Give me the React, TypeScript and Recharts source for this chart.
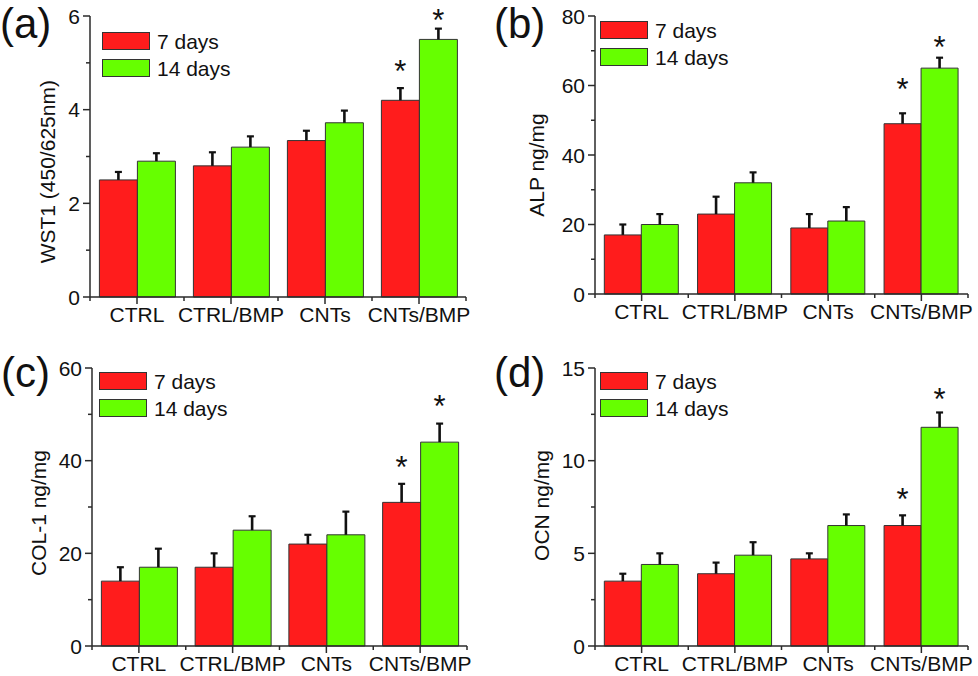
import React from 'react';
import { BarChart, Bar, XAxis, YAxis, Legend, LabelList } from 'recharts';

// ---------- data ----------
const categories = ['CTRL', 'CTRL/BMP', 'CNTs', 'CNTs/BMP'];
const seriesNames = ['7 days', '14 days'];

const wst1Day7 = [2.5, 2.8, 3.34, 4.2];
const wst1Day14 = [2.9, 3.2, 3.72, 5.5];
const wst1Err7 = [0.17, 0.29, 0.21, 0.26];
const wst1Err14 = [0.17, 0.23, 0.26, 0.23];
const wst1Star7 = [null, null, null, 4.97];
const wst1Star14 = [null, null, null, 6.06];
const wst1Ticks = [0, 1, 2, 3, 4, 5, 6];
const wst1Major = [0, 2, 4, 6];

const alpDay7 = [17, 23, 19, 49];
const alpDay14 = [20, 32, 21, 65];
const alpErr7 = [3, 5, 4, 3];
const alpErr14 = [3, 3, 4, 3];
const alpStar7 = [null, null, null, 61];
const alpStar14 = [null, null, null, 73.2];
const alpTicks = [0, 10, 20, 30, 40, 50, 60, 70, 80];
const alpMajor = [0, 20, 40, 60, 80];

const colDay7 = [14, 17, 22, 31];
const colDay14 = [17, 25, 24, 44];
const colErr7 = [3, 3, 2, 4];
const colErr14 = [4, 3, 5, 4];
const colStar7 = [null, null, null, 40.2];
const colStar14 = [null, null, null, 53.2];
const colTicks = [0, 10, 20, 30, 40, 50, 60];
const colMajor = [0, 20, 40, 60];

const ocnDay7 = [3.5, 3.9, 4.7, 6.5];
const ocnDay14 = [4.4, 4.9, 6.5, 11.8];
const ocnErr7 = [0.4, 0.6, 0.3, 0.55];
const ocnErr14 = [0.6, 0.7, 0.6, 0.8];
const ocnStar7 = [null, null, null, 8.3];
const ocnStar14 = [null, null, null, 13.7];
const ocnTicks = [0, 2.5, 5, 7.5, 10, 12.5, 15];
const ocnMajor = [0, 5, 10, 15];

// ---------- styles ----------
const FONT = '"Liberation Sans", Arial, sans-serif';
const AXIS = '#2a2a2a';
const TEXT = '#111';
const RED = '#FF1C1C';
const GREEN = '#66FF00';
const FS = 21;
const STAR_FS = 31;
const W = 489;
const H = 338;
const Y_AXIS_W = 40;
const X_AXIS_H = 30;

type Cfg = {
  left: number;
  top: number;
  plot: { l: number; r: number; t: number; b: number };
  day7: number[];
  day14: number[];
  err7: number[];
  err14: number[];
  star7: (number | null)[];
  star14: (number | null)[];
  domain: [number, number];
  ticks: number[];
  major: number[];
  yLabel: string;
  yLabelPos: [number, number];
  letter: string;
  letterPos: [number, number];
  legendPos: [number, number];
};

const panels: Cfg[] = [
  {
    left: 0, top: 0, plot: { l: 90, r: 466, t: 16, b: 297 },
    day7: wst1Day7, day14: wst1Day14, err7: wst1Err7, err14: wst1Err14, star7: wst1Star7, star14: wst1Star14,
    domain: [0, 6], ticks: wst1Ticks, major: wst1Major,
    yLabel: 'WST1 (450/625nm)', yLabelPos: [55.5, 171.7], letter: '(a)', letterPos: [0, 38], legendPos: [102, 27.5],
  },
  {
    left: 489, top: 0, plot: { l: 106, r: 479, t: 16, b: 294 },
    day7: alpDay7, day14: alpDay14, err7: alpErr7, err14: alpErr14, star7: alpStar7, star14: alpStar14,
    domain: [0, 80], ticks: alpTicks, major: alpMajor,
    yLabel: 'ALP ng/mg', yLabelPos: [55, 165], letter: '(b)', letterPos: [5, 38], legendPos: [111, 16.5],
  },
  {
    left: 0, top: 338, plot: { l: 92, r: 467, t: 30, b: 308 },
    day7: colDay7, day14: colDay14, err7: colErr7, err14: colErr14, star7: colStar7, star14: colStar14,
    domain: [0, 60], ticks: colTicks, major: colMajor,
    yLabel: 'COL-1 ng/mg', yLabelPos: [46, 175], letter: '(c)', letterPos: [1, 49], legendPos: [99, 29.5],
  },
  {
    left: 489, top: 338, plot: { l: 106, r: 479, t: 30, b: 308 },
    day7: ocnDay7, day14: ocnDay14, err7: ocnErr7, err14: ocnErr14, star7: ocnStar7, star14: ocnStar14,
    domain: [0, 15], ticks: ocnTicks, major: ocnMajor,
    yLabel: 'OCN ng/mg', yLabelPos: [60, 167.5], letter: '(d)', letterPos: [5, 49], legendPos: [111, 29.5],
  },
];

// ---------- pieces ----------
const XTick = (props: any) => {
  const { x, y, payload, band } = props;
  const isLast = payload.value === categories[categories.length - 1];
  return (
    <g>
      <line x1={x} x2={x} y1={y} y2={y + 7} stroke={AXIS} strokeWidth={1.5} />
      <line x1={x - band / 2} x2={x - band / 2} y1={y} y2={y + 4} stroke={AXIS} strokeWidth={1.5} />
      {isLast && <line x1={x + band / 2} x2={x + band / 2} y1={y} y2={y + 4} stroke={AXIS} strokeWidth={1.5} />}
      <text x={x} y={y + 25} textAnchor="middle" fontSize={FS} fontFamily={FONT} fill={TEXT}>
        {payload.value}
      </text>
    </g>
  );
};

const YTick = (props: any) => {
  const { x, y, payload, major } = props;
  const isMajor = major.includes(payload.value);
  return (
    <g>
      <line x1={x - (isMajor ? 7 : 4)} x2={x} y1={y} y2={y} stroke={AXIS} strokeWidth={1.5} />
      {isMajor && (
        <text x={x - 10} y={y + 7.5} textAnchor="end" fontSize={FS} fontFamily={FONT} fill={TEXT}>
          {payload.value}
        </text>
      )}
    </g>
  );
};

const makeErr = (values: number[], errs: number[], stars: (number | null)[]) => (props: any) => {
  const vb = props.viewBox ?? props;
  const { x, y, width, height } = vb;
  const v = Number(props.value);
  const i = props.index != null ? props.index : values.indexOf(v);
  if (!v || !height || height <= 0 || i < 0) return null;
  const k = height / v;
  const cx = x + width / 2;
  const ey = y - errs[i] * k;
  const s = stars[i];
  return (
    <g>
      <line x1={cx} x2={cx} y1={y} y2={ey} stroke="#111" strokeWidth={2.6} />
      <line x1={cx - 3.5} x2={cx + 3.5} y1={ey} y2={ey} stroke="#111" strokeWidth={2.2} />
      {s != null && (
        <text x={cx} y={y - (s - v) * k + STAR_FS * 0.58} textAnchor="middle" fontSize={STAR_FS} fontFamily={FONT} fill="#111">
          *
        </text>
      )}
    </g>
  );
};

const LegendBox = (props: any) => {
  const payload = [...(props.payload || [])].sort(
    (a: any, b: any) => seriesNames.indexOf(a.value) - seriesNames.indexOf(b.value)
  );
  return (
    <div style={{ fontFamily: FONT, fontSize: FS, color: TEXT }}>
      {payload.map((p: any) => (
        <div key={p.value} style={{ display: 'flex', alignItems: 'center', height: 27, whiteSpace: 'nowrap' }}>
          <span
            style={{
              display: 'inline-block',
              width: 46,
              height: 16,
              background: p.color,
              border: '1px solid #333',
              marginRight: 7,
            }}
          />
          <span style={{ lineHeight: '27px' }}>{p.value}</span>
        </div>
      ))}
    </div>
  );
};

function Panel({ cfg }: { cfg: Cfg }) {
  const margin = {
    top: cfg.plot.t,
    right: W - cfg.plot.r,
    bottom: H - cfg.plot.b - X_AXIS_H,
    left: cfg.plot.l - Y_AXIS_W,
  };
  const band = (cfg.plot.r - cfg.plot.l) / categories.length;
  const data = categories.map((c, i) => ({ cat: c, d7: cfg.day7[i], d14: cfg.day14[i] }));
  const renderLabel = () => (
    <g>
      <text
        x={cfg.yLabelPos[0]}
        y={cfg.yLabelPos[1]}
        transform={`rotate(-90 ${cfg.yLabelPos[0]} ${cfg.yLabelPos[1]})`}
        textAnchor="middle"
        fontSize={FS}
        fontFamily={FONT}
        fill={TEXT}
      >
        {cfg.yLabel}
      </text>
      <text x={cfg.letterPos[0]} y={cfg.letterPos[1]} fontSize={42} fontFamily={FONT} fill={TEXT}>
        {cfg.letter}
      </text>
    </g>
  );
  return (
    <div style={{ position: 'absolute', left: cfg.left, top: cfg.top, width: W, height: H }}>
      <BarChart width={W} height={H} data={data} margin={margin} barGap={0} barCategoryGap="10%">
        <XAxis
          dataKey="cat"
          interval={0}
          tickSize={0}
          tickMargin={0}
          height={X_AXIS_H}
          axisLine={{ stroke: AXIS, strokeWidth: 1.5 }}
          tickLine={false}
          tick={<XTick band={band} />}
        />
        <XAxis xAxisId="top" orientation="top" dataKey="cat" height={0} tick={false} tickLine={false} axisLine={{ stroke: AXIS, strokeWidth: 1.5 }} />
        <YAxis
          domain={cfg.domain}
          ticks={cfg.ticks}
          interval={0}
          tickSize={0}
          tickMargin={0}
          width={Y_AXIS_W}
          axisLine={{ stroke: AXIS, strokeWidth: 1.5 }}
          tickLine={false}
          tick={<YTick major={cfg.major} />}
          label={{ value: cfg.yLabel, content: renderLabel }}
        />
        <YAxis yAxisId="right" orientation="right" domain={cfg.domain} width={0} tick={false} tickLine={false} axisLine={{ stroke: AXIS, strokeWidth: 1.5 }} />
        <Legend
          verticalAlign="middle"
          align="center"
          layout="horizontal"
          itemSorter={null as any}
          wrapperStyle={{ left: cfg.legendPos[0], top: cfg.legendPos[1], width: 'auto', height: 'auto' }}
          content={(p: any) => <LegendBox payload={p.payload} />}
        />
        <Bar dataKey="d7" name={seriesNames[0]} fill={RED} stroke="#333" strokeWidth={1} isAnimationActive={false}>
          <LabelList dataKey="d7" content={makeErr(cfg.day7, cfg.err7, cfg.star7)} />
        </Bar>
        <Bar dataKey="d14" name={seriesNames[1]} fill={GREEN} stroke="#333" strokeWidth={1} isAnimationActive={false}>
          <LabelList dataKey="d14" content={makeErr(cfg.day14, cfg.err14, cfg.star14)} />
        </Bar>
      </BarChart>
    </div>
  );
}

export default function App() {
  return (
    <div style={{ position: 'absolute', left: 0, top: 0, width: 978, height: 676, background: '#fff', overflow: 'hidden' }}>
      {panels.map((p) => (
        <Panel key={p.letter} cfg={p} />
      ))}
    </div>
  );
}
